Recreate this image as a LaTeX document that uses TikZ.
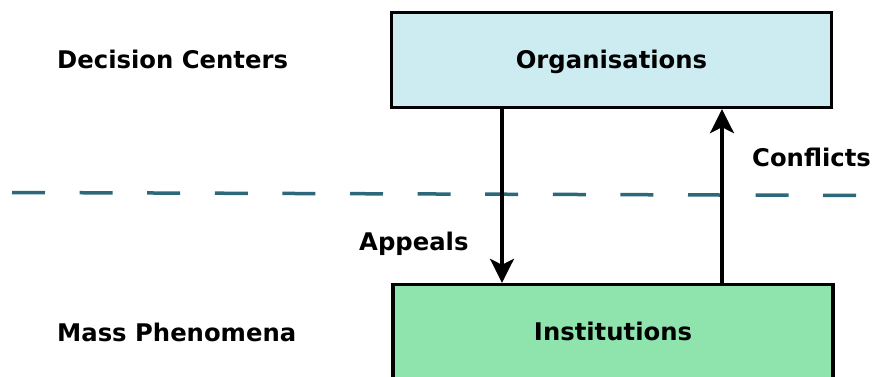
\documentclass[tikz,border=0pt]{standalone}
\usepackage{fontspec}
\setmainfont{DejaVu Sans}
\usetikzlibrary{arrows.meta}
\definecolor{orgblue}{RGB}{204,236,242}
\definecolor{instgreen}{RGB}{142,228,172}
\definecolor{divteal}{RGB}{44,104,122}

\begin{document}
\begin{tikzpicture}[x=1pt,y=-1pt,
	font=\fontsize{24.3}{29}\selectfont\bfseries,
	level/.style={draw, line width=3.4pt, minimum width=440pt, minimum height=95pt,
		inner sep=0pt, text height=17.5pt, text depth=0pt},
	tag/.style={anchor=base west, inner sep=0pt},
	flow/.style={line width=3.3pt, -{Stealth[length=24pt,width=24pt,inset=6pt]}},
	divider/.style={divteal, line width=3.5pt, dash pattern=on 33pt off 34.6pt}]
	\useasboundingbox (0,0) rectangle (887,377);
	\clip (0,0) rectangle (887,377);
	% the two levels
	\node [level, fill=orgblue] (org) at (611.5,60) {Organisations};
	\node [level, fill=instgreen] (inst) at (613,332) {Institutions};
	% dividing line
	\coordinate (divl) at (12,192.5);
	\coordinate (divr) at (860,195.5);
	\draw [divider] (divl) -- (divr);
	% arrows between the levels
	\coordinate (downx) at (502,0);
	\coordinate (upx) at (722,0);
	\draw [flow] (org.south -| downx) -- (inst.north -| downx);
	\draw [flow] (inst.north -| upx) -- (org.south -| upx);
	% labels
	\node [tag] (dec) at (57,69) {Decision Centers};
	\node [tag] (mass) at (57,341) {Mass Phenomena};
	\node [tag] (app) at (359,251) {Appeals};
	\node [tag] (conf) at (752,167) {Conflicts};
\end{tikzpicture}
\end{document}
